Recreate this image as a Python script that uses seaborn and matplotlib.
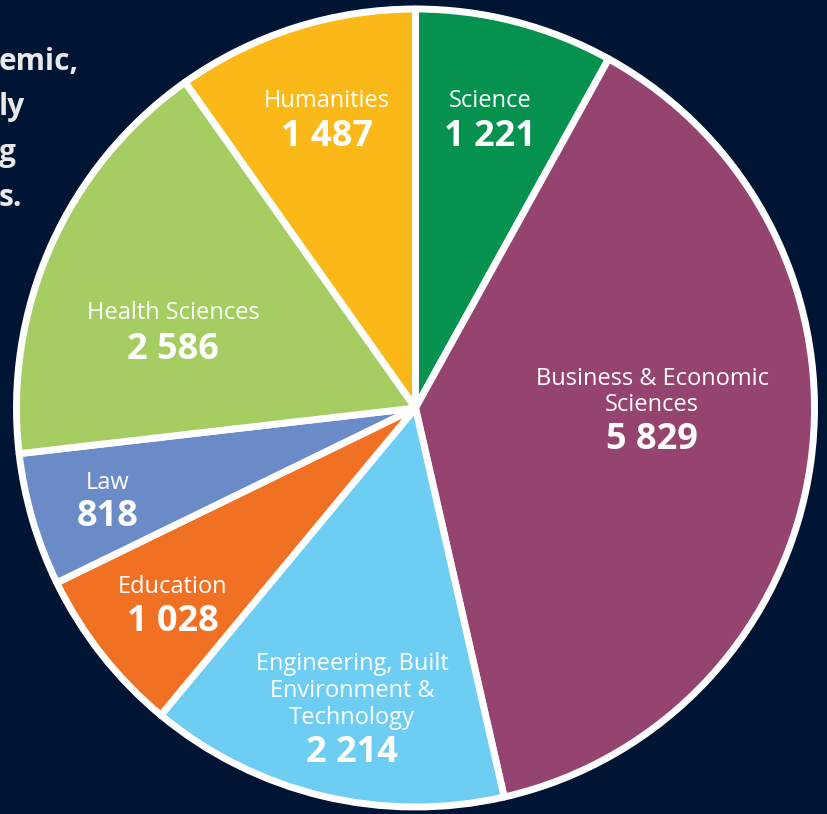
import matplotlib
matplotlib.use("Agg")
import matplotlib.pyplot as plt
import seaborn as sns

# faculty enrolments, clockwise from 12 o'clock
faculties = ["Science", "Business & Economic\nSciences", "Engineering, Built\nEnvironment &\nTechnology",
             "Education", "Law", "Health Sciences", "Humanities"]
students = [1221, 5829, 2214, 1028, 818, 2586, 1487]
number_labels = ["1 221", "5 829", "2 214", "1 028", "818", "2 586", "1 487"]
colours = ["#05924f", "#95446f", "#6dcdf3", "#f07024", "#6b8bc8", "#a5cd62", "#fbb919"]

# text left over from the page, partly cut off
side_text = ["emic,", "ly", "g", "s."]

BG = "#001533"
W, H = 827, 814

sns.set_theme(style="white")
plt.rcParams["font.family"] = ["Open Sans", "DejaVu Sans"]

fig = plt.figure(figsize=(W / 100, H / 100), dpi=100, facecolor=BG)
ax = fig.add_axes([0, 0, 1, 1])
ax.set_facecolor(BG)

# side text drawn first so the pie sits on top of it
for i, line in enumerate(side_text):
    ax.text(-1, H - 70 - i * 45.5, line, color="#e9e9e9", fontsize=21.5, fontweight="bold",
            ha="left", va="baseline")

cx, cy, r = 415.5, H - 408, 399
ax.pie(students, colors=colours, startangle=90, counterclock=False,
       center=(cx, cy), radius=r,
       wedgeprops=dict(edgecolor="white", linewidth=5, joinstyle="round"))

# label anchor points (pixels from top-left), name block sits above the number
label_pos = [(490, 101), (652, 392), (352, 691), (173, 587), (108, 483), (173, 313), (327, 101)]
number_y = [137, 440, 753, 622, 517, 350, 137]

for name, num, (x, y), ny in zip(faculties, number_labels, label_pos, number_y):
    ax.text(x, H - y, name, color="white", fontsize=17, ha="center", va="center",
            linespacing=1.15)
    ax.text(x, H - ny, num, color="white", fontsize=26, fontweight="bold",
            ha="center", va="center")

ax.set_xlim(0, W)
ax.set_ylim(0, H)
ax.set_aspect("equal")
ax.axis("off")

fig.savefig("out.png", dpi=100, facecolor=BG)
